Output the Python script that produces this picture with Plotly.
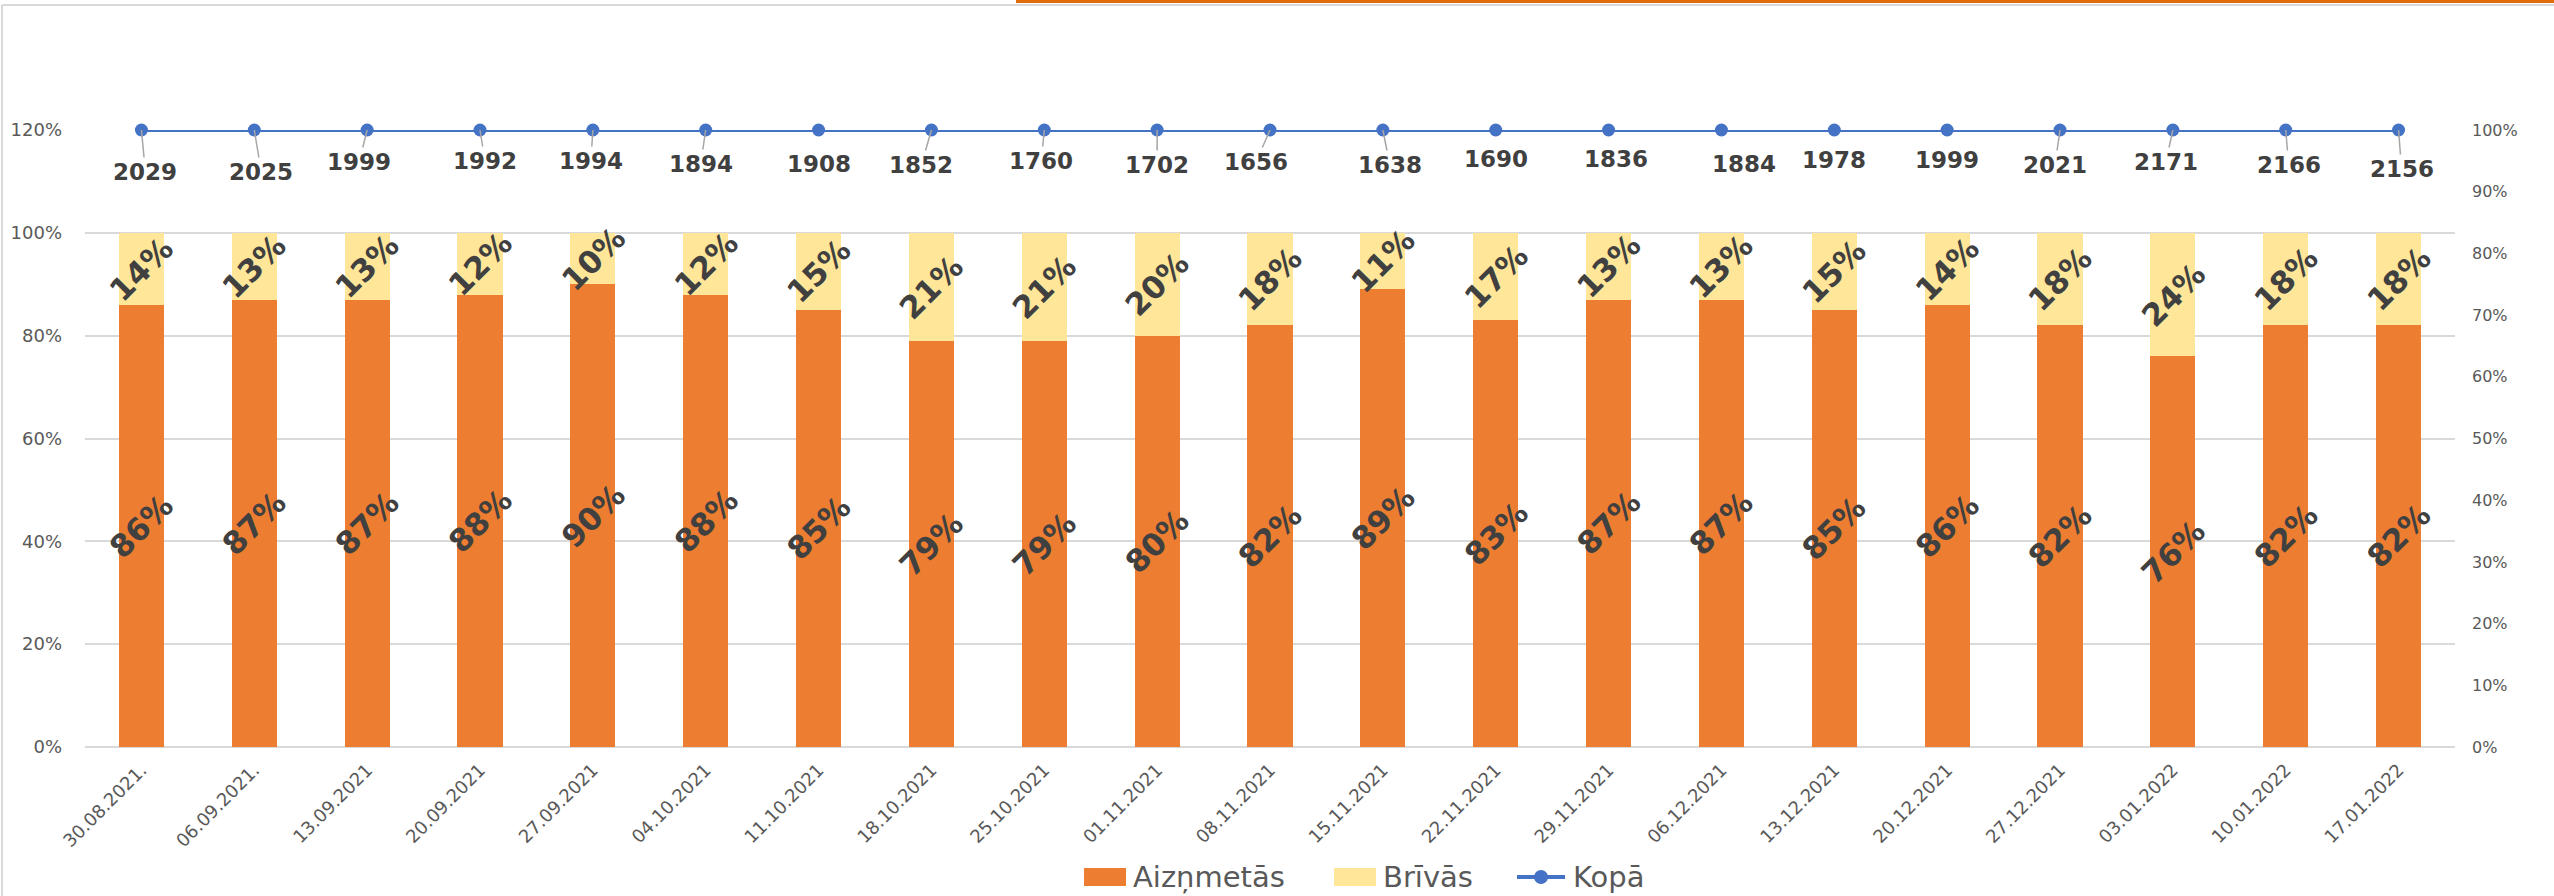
import plotly.graph_objects as go

# nedēļas
datumi = [
    '30.08.2021.', '06.09.2021.', '13.09.2021', '20.09.2021', '27.09.2021',
    '04.10.2021', '11.10.2021', '18.10.2021', '25.10.2021', '01.11.2021',
    '08.11.2021', '15.11.2021', '22.11.2021', '29.11.2021', '06.12.2021',
    '13.12.2021', '20.12.2021', '27.12.2021', '03.01.2022', '10.01.2022',
    '17.01.2022'
]
aiznemtas = [0.86, 0.87, 0.87, 0.88, 0.90, 0.88, 0.85, 0.79, 0.79, 0.80, 0.82,
             0.89, 0.83, 0.87, 0.87, 0.85, 0.86, 0.82, 0.76, 0.82, 0.82]
brivas = [0.14, 0.13, 0.13, 0.12, 0.10, 0.12, 0.15, 0.21, 0.21, 0.20, 0.18,
          0.11, 0.17, 0.13, 0.13, 0.15, 0.14, 0.18, 0.24, 0.18, 0.18]
kopa = [1.0, 1.0, 1.0, 1.0, 1.0, 1.0, 1.0, 1.0, 1.0, 1.0, 1.0,
        1.0, 1.0, 1.0, 1.0, 1.0, 1.0, 1.0, 1.0, 1.0, 1.0]
kopa_skaits = [2029, 2025, 1999, 1992, 1994, 1894, 1908, 1852, 1760, 1702, 1656,
               1638, 1690, 1836, 1884, 1978, 1999, 2021, 2171, 2166, 2156]

# kur Excel bija novietojis skaita etiķetes (px nobīde no punkta) un vai ir līnija
etik_dx = [4, 7, -8, 5, -2, -5, 0, -10, -3, 0, -14, 7, 0, 7, 23, 0, 0, -5, -7, 3, 3]
etik_dy = [42, 42, 32, 31, 31, 34, 34, 35, 31, 35, 32, 35, 29, 29, 34, 30, 30, 35, 32, 35, 39]
etik_linija = [1, 1, 1, 1, 1, 1, 0, 1, 1, 1, 1, 1, 0, 0, 0, 0, 0, 1, 1, 1, 1]

ORANZS = '#ED7D31'
DZELTENS = '#FFE699'
ZILS = '#4472C4'
TEKSTS = '#404040'
ASS = '#595959'
REZGIS = '#D9D9D9'
FONTS = 'DejaVu Sans'

fig = go.Figure()
fig.add_trace(go.Bar(name='Aizņmetās', x=datumi, y=aiznemtas, marker_color=ORANZS,
                     marker_line_width=0))
fig.add_trace(go.Bar(name='Brīvās', x=datumi, y=brivas, marker_color=DZELTENS,
                     marker_line_width=0))
fig.add_trace(go.Scatter(name='Kopā', x=datumi, y=kopa, yaxis='y2', mode='lines+markers',
                         line=dict(color=ZILS, width=4), marker=dict(size=13, color=ZILS),
                         cliponaxis=False))

anot = []
for i, d in enumerate(datumi):
    a, b = aiznemtas[i], brivas[i]
    for y, v in ((a / 2, a), (a + b / 2, b)):
        anot.append(dict(x=d, y=y, xref='x', yref='y', text=f'{round(v * 100)}%',
                         showarrow=False, textangle=-45,
                         font=dict(family=FONTS, size=31, color=TEKSTS, weight='bold')))
    anot.append(dict(x=d, y=kopa[i], xref='x', yref='y2', text=str(kopa_skaits[i]),
                     showarrow=True, arrowhead=0, arrowwidth=1.5,
                     arrowcolor='#A6A6A6' if etik_linija[i] else 'rgba(0,0,0,0)',
                     ax=etik_dx[i], ay=etik_dy[i],
                     font=dict(family=FONTS, size=23, color=TEKSTS, weight='bold')))

L, R, T, B = 85, 99, 130, 149
W, H = 2554, 896
pw, ph = W - L - R, H - T - B
def px_x(p):
    return (p - L) / pw
def px_y(p):
    return (H - B - p) / ph

# rāmis un oranžā josla augšā kā ekrānuzņēmumā
shapes = [
    dict(type='line', xref='paper', yref='paper', x0=px_x(2), x1=px_x(2), y0=px_y(5), y1=px_y(H),
         line=dict(color=REZGIS, width=2)),
    dict(type='line', xref='paper', yref='paper', x0=px_x(2), x1=px_x(W), y0=px_y(5), y1=px_y(5),
         line=dict(color=REZGIS, width=2)),
    dict(type='rect', xref='paper', yref='paper', x0=px_x(1016), x1=px_x(W), y0=px_y(3), y1=px_y(0),
         fillcolor='#E36C0A', line_width=0),
]

# leģenda zem ass, Excel stilā
leg_y = 877
shapes += [
    dict(type='rect', xref='paper', yref='paper', x0=px_x(1084), x1=px_x(1126),
         y0=px_y(leg_y + 9), y1=px_y(leg_y - 9), fillcolor=ORANZS, line_width=0),
    dict(type='rect', xref='paper', yref='paper', x0=px_x(1334), x1=px_x(1376),
         y0=px_y(leg_y + 9), y1=px_y(leg_y - 9), fillcolor=DZELTENS, line_width=0),
    dict(type='line', xref='paper', yref='paper', x0=px_x(1517), x1=px_x(1565),
         y0=px_y(leg_y), y1=px_y(leg_y), line=dict(color=ZILS, width=4)),
    dict(type='circle', xref='paper', yref='paper', xsizemode='pixel', ysizemode='pixel',
         xanchor=px_x(1541), yanchor=px_y(leg_y), x0=-7, x1=7, y0=-7, y1=7,
         fillcolor=ZILS, line_width=0),
]
for nosaukums, xp in (('Aizņmetās', 1131), ('Brīvās', 1381), ('Kopā', 1571)):
    anot.append(dict(xref='paper', yref='paper', x=px_x(xp), y=px_y(leg_y), text=nosaukums,
                     xanchor='left', yanchor='middle', showarrow=False,
                     font=dict(family=FONTS, size=29, color=ASS)))

fig.update_layout(
    width=W, height=H,
    margin=dict(l=L, r=R, t=T, b=B, autoexpand=False),
    paper_bgcolor='white', plot_bgcolor='white',
    barmode='stack', bargap=0.6,
    showlegend=False,
    font=dict(family=FONTS, color=ASS),
    xaxis=dict(range=[-0.5, len(datumi) - 0.5], tickangle=-45,
               tickfont=dict(size=18, color=ASS), showgrid=False,
               showline=False, ticks='', ticklabelstandoff=8, automargin=False),
    yaxis=dict(range=[0, 1.2], dtick=0.2, tickformat='.0%', showgrid=True, gridcolor=REZGIS,
               gridwidth=2, zeroline=True, zerolinecolor=REZGIS, zerolinewidth=2,
               tickfont=dict(size=18, color=ASS), ticklabelstandoff=22, automargin=False),
    yaxis2=dict(range=[0, 1], dtick=0.1, tickformat='.0%', overlaying='y', side='right',
                showgrid=False, zeroline=False, tickfont=dict(size=16, color=ASS),
                ticklabelstandoff=16, automargin=False),
    annotations=anot,
    shapes=shapes,
)

# lapai bez noklusētās 8px atkāpes, bez rīkjoslas
fig.write_html('out.html', config={'displayModeBar': False},
               post_script="document.body.style.margin='0';")
